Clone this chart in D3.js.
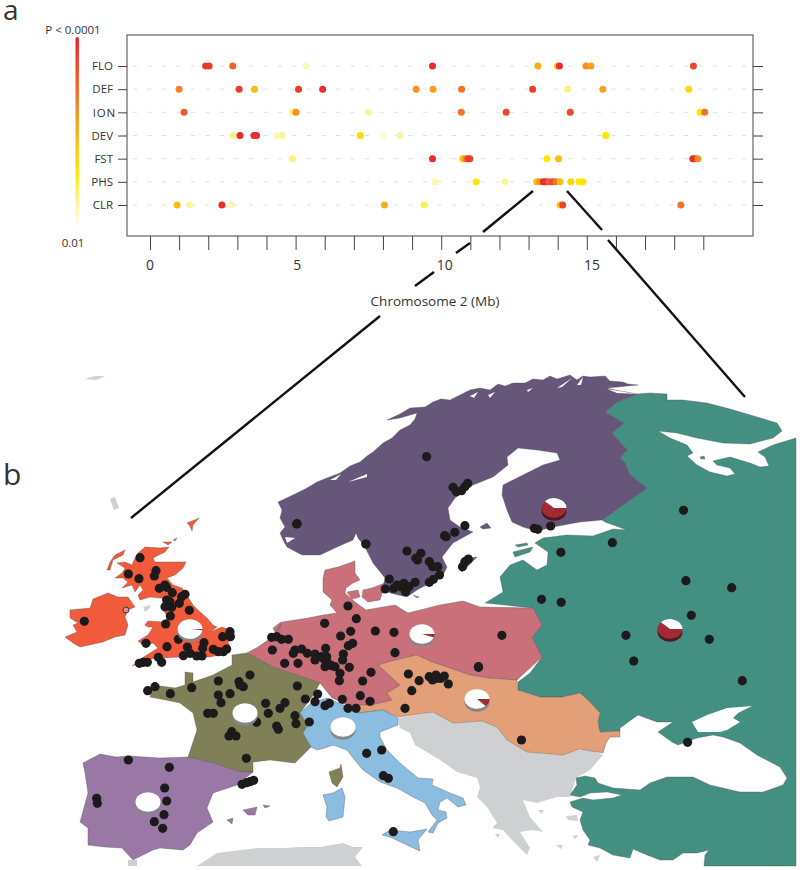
<!DOCTYPE html>
<html>
<head>
<meta charset="utf-8">
<script src="https://cdnjs.cloudflare.com/ajax/libs/d3/7.8.5/d3.min.js"></script>
<style>
body { margin: 0; background: #fff; }
svg { display: block; }
text { font-family: "Open Sans", sans-serif; fill: #333; }
</style>
</head>
<body>
<div id="chart"></div>
<script>
// panel a: traits and their hits along chromosome 2
var traits = ["FLO", "DEF", "ION", "DEV", "FST", "PHS", "CLR"];
var mbTicks = d3.range(0, 20);
var mbLabels = [0, 5, 10, 15];

// position in Mb, then significance (0 = P 0.01, 1 = P < 0.0001)
var floMb = [1.91, 2.03, 2.84, 5.35, 9.70, 13.32, 13.99, 14.06, 14.97, 15.14, 18.66];
var floSig = [0.9, 0.9, 0.75, 0.08, 0.95, 0.5, 0.4, 0.95, 0.6, 0.55, 0.85];
var defMb = [1.0, 3.06, 3.59, 5.1, 5.93, 9.14, 9.72, 10.7, 13.14, 14.34, 15.55, 18.5];
var defSig = [0.65, 0.9, 0.45, 0.9, 0.95, 0.6, 0.55, 0.7, 0.9, 0.15, 0.55, 0.35];
var ionMb = [1.17, 4.9, 5.01, 7.51, 10.69, 12.23, 14.43, 18.89, 19.05];
var ionSig = [0.8, 0.15, 0.6, 0.12, 0.7, 0.85, 0.85, 0.3, 0.7];
var devMb = [2.86, 3.09, 3.57, 3.66, 4.35, 4.53, 7.22, 8.01, 8.59, 15.65];
var devSig = [0.15, 0.95, 0.95, 0.95, 0.08, 0.12, 0.35, 0.05, 0.12, 0.3];
var fstMb = [4.89, 9.7, 10.74, 10.83, 10.91, 10.98, 13.63, 14.03, 18.64, 18.73, 18.81];
var fstSig = [0.15, 0.95, 0.4, 0.6, 0.85, 0.9, 0.3, 0.45, 0.95, 0.95, 0.6];
var phsMb = [9.79, 11.2, 12.19, 13.28, 13.39, 13.51, 13.59, 13.7, 13.83, 13.94, 14.08, 14.45, 14.73, 14.87];
var phsSig = [0.1, 0.3, 0.12, 0.45, 0.6, 0.95, 0.95, 0.8, 0.85, 0.7, 0.45, 0.35, 0.3, 0.3];
var clrMb = [0.93, 1.36, 2.47, 2.8, 8.05, 9.41, 14.08, 14.17, 18.23];
var clrSig = [0.45, 0.12, 0.95, 0.1, 0.5, 0.2, 0.4, 0.85, 0.7];

var traitMb = [floMb, defMb, ionMb, devMb, fstMb, phsMb, clrMb];
var traitSig = [floSig, defSig, ionSig, devSig, fstSig, phsSig, clrSig];

// panel b: regions, outlines in map units
var balkans = [[[398,718],[400,728],[410,733],[415,745],[440,760],[457,772],[477,778],[480,787],[477,797],[487,807],[497,823],[492,828],[503,830],[510,838],[527,855],[530,848],[520,832],[533,830],[543,832],[530,817],[523,800],[537,803],[557,797],[570,797],[576,778],[590,770],[603,755],[587,748],[560,755],[527,752],[507,740],[497,727],[482,721],[453,723],[433,712]],
  [[566,816],[577,815],[578,821],[568,820]],[[593,857],[600,855],[597,862]],[[556,845],[563,845],[561,849]],[[495,834],[500,834],[498,838]],[[572,836],[578,835],[576,839]],[[538,810],[544,810],[542,814]]];
var africa = [[[197,866],[217,853],[257,848],[283,848],[300,847],[320,847],[343,843],[353,847],[363,847],[355,857],[362,866]],[[128,866],[128,860],[137,860],[137,866]]];
var smallGrey = [[[85,379],[95,376],[105,376],[97,380]],[[110,499],[115,497],[119,508],[114,510]],[[143,607],[150,605],[150,608],[145,612]],[[293,668],[298,666],[300,674],[295,675]]];
var russia = [[[605,412],[617,402],[637,394],[650,393],[667,394],[667,400],[683,400],[707,403],[730,409],[757,417],[777,423],[782,431],[773,438],[750,444],[723,443],[697,438],[677,433],[658,431],[670,438],[687,445],[693,453],[687,456],[697,465],[710,472],[727,476],[735,474],[730,468],[717,465],[713,461],[730,457],[750,463],[760,467],[769,466],[765,457],[758,452],[773,445],[796,438],[796,866],[704,866],[705,855],[709,850],[697,853],[683,853],[673,860],[660,860],[647,855],[633,849],[630,858],[613,855],[600,848],[588,845],[590,840],[583,830],[580,820],[583,812],[572,807],[570,802],[583,798],[593,800],[613,798],[622,795],[607,792],[590,793],[580,797],[570,795],[577,785],[576,778],[585,776],[595,778],[598,783],[613,788],[640,790],[650,783],[667,777],[693,777],[710,785],[740,792],[763,792],[783,785],[787,778],[780,767],[757,755],[740,743],[723,737],[713,735],[697,738],[678,745],[672,742],[658,732],[673,722],[657,722],[638,715],[620,728],[620,731],[600,732],[598,722],[600,713],[590,702],[580,693],[563,697],[540,697],[518,690],[518,682],[530,673],[542,657],[532,637],[542,625],[533,608],[485,603],[490,600],[503,592],[500,577],[510,565],[523,560],[537,570],[547,565],[548,552],[535,543],[543,538],[567,535],[593,536],[613,529],[627,530],[605,522],[602,520],[647,488],[630,475],[625,463],[620,458],[627,450],[612,433],[624,423]],
  [[513,552],[533,547],[530,552],[515,557]],[[515,545],[527,543],[528,545],[518,547]],[[700,457],[704,456],[705,459],[701,459]]];
var azov = [[[692,722],[698,732],[720,732],[727,730],[740,722],[733,718],[738,713],[752,706],[740,707],[727,708],[707,715]]];
var germany = [[[247,653],[258,647],[268,640],[275,633],[282,622],[308,618],[323,615],[337,613],[330,605],[332,600],[323,592],[323,578],[325,570],[338,567],[355,561],[355,573],[360,580],[353,583],[346,588],[345,593],[355,602],[366,610],[383,607],[395,605],[408,613],[440,605],[463,601],[480,607],[533,608],[542,625],[532,637],[542,657],[517,680],[488,678],[470,675],[447,667],[432,662],[417,655],[408,657],[388,662],[378,665],[400,685],[387,693],[392,700],[372,705],[353,707],[332,698],[320,683],[273,667]],
  [[347,592],[358,590],[360,597],[352,599]],[[363,590],[372,588],[385,583],[383,590],[380,600],[368,602],[362,597]],[[413,595],[419,597],[417,598]],[[273,628],[281,622],[280,628],[275,632]]];
var orange = [[[378,665],[388,662],[408,657],[417,655],[432,662],[447,667],[470,675],[488,678],[517,680],[518,690],[540,697],[563,697],[580,693],[590,702],[600,713],[598,722],[600,732],[620,731],[620,737],[610,737],[606,743],[603,753],[580,749],[562,755],[527,752],[507,740],[497,727],[482,721],[453,723],[433,712],[398,717],[383,710],[367,712],[357,713],[343,705],[372,705],[392,700],[387,693],[400,685]]];
var france = [[[232,655],[247,653],[273,667],[320,683],[312,697],[300,713],[308,725],[303,733],[311,747],[295,763],[270,760],[253,762],[253,772],[240,772],[213,763],[188,757],[192,745],[197,730],[193,713],[180,703],[166,700],[150,697],[153,685],[175,688],[185,685],[185,672],[193,673],[193,682],[213,675],[232,665]],
  [[329,772],[340,768],[341,764],[343,777],[337,787],[332,783]]];
var italy = [[[300,713],[312,702],[328,698],[343,705],[357,713],[367,712],[383,710],[398,718],[398,725],[380,732],[380,737],[387,750],[400,763],[418,778],[433,779],[432,785],[450,793],[463,798],[466,805],[458,807],[447,798],[440,802],[438,810],[446,812],[447,818],[438,823],[433,833],[428,832],[437,820],[432,815],[425,803],[413,797],[397,788],[380,782],[363,770],[353,758],[347,750],[333,745],[325,748],[317,750],[311,747],[303,733],[308,725]],
  [[382,835],[390,830],[410,832],[427,829],[418,840],[420,851],[407,845],[390,837]],[[323,795],[333,793],[342,788],[345,797],[343,817],[329,821],[326,817],[327,807]]];
var iberia = [[[83,763],[100,754],[116,757],[130,756],[160,758],[188,757],[213,763],[240,772],[253,772],[237,785],[213,793],[207,808],[213,822],[197,833],[190,845],[183,850],[160,848],[153,850],[133,860],[122,848],[105,847],[88,845],[88,828],[80,822],[88,793],[85,773]],
  [[243,810],[257,807],[255,815],[248,815]],[[263,805],[270,806],[265,808]],[[227,820],[233,818],[232,824]]];
var britain = [[[138,553],[145,547],[160,548],[169,547],[165,552],[153,558],[155,562],[170,562],[186,562],[183,568],[175,575],[167,578],[173,585],[182,588],[188,597],[193,605],[198,610],[207,618],[213,625],[217,627],[210,632],[222,627],[233,631],[235,637],[228,642],[230,647],[223,654],[210,657],[197,657],[180,657],[163,658],[157,657],[147,661],[132,666],[142,658],[150,653],[158,648],[153,643],[145,646],[138,641],[148,635],[153,627],[148,627],[145,625],[148,621],[163,622],[168,617],[163,610],[165,603],[162,598],[160,598],[150,597],[140,600],[138,595],[143,590],[140,585],[135,592],[132,585],[122,588],[128,582],[123,578],[115,578],[122,573],[125,568],[117,563],[125,562],[132,565],[135,558]],
  [[107,570],[110,562],[115,555],[125,550],[123,555],[113,560],[110,570]],[[163,542],[172,542],[168,545]],[[173,540],[177,538],[175,541]],[[187,523],[197,519],[199,518],[193,525],[192,531],[190,526]],
  [[70,610],[90,608],[93,599],[108,593],[118,597],[128,597],[135,607],[128,610],[125,617],[128,625],[125,635],[115,637],[103,642],[80,647],[73,643],[65,637],[77,632],[73,625],[78,623],[70,618]]];
var nordic = [[[287,547],[302,555],[320,555],[337,547],[353,540],[356,533],[358,538],[365,547],[373,563],[385,578],[383,587],[390,593],[407,597],[417,590],[430,583],[442,577],[447,567],[442,557],[453,543],[473,532],[460,527],[450,520],[448,508],[455,498],[473,485],[493,477],[508,465],[507,457],[518,448],[537,450],[557,453],[560,460],[543,465],[527,473],[503,485],[502,495],[507,510],[512,522],[523,527],[537,531],[553,527],[580,522],[602,520],[647,488],[630,475],[625,463],[620,458],[627,450],[612,433],[624,423],[605,412],[617,402],[637,394],[615,390],[607,388],[638,385],[628,384],[623,382],[610,381],[605,376],[590,377],[583,376],[577,380],[570,375],[557,379],[550,376],[543,380],[533,379],[525,383],[513,383],[505,386],[498,384],[490,390],[480,388],[470,390],[462,394],[450,400],[441,399],[433,402],[425,407],[410,408],[400,414],[387,420],[400,418],[417,413],[415,419],[410,425],[400,430],[392,438],[383,443],[373,452],[367,456],[360,462],[350,466],[340,473],[327,478],[317,482],[307,488],[293,495],[278,502],[282,510],[280,518],[285,527],[280,533],[283,540]],
  [[480,527],[487,523],[491,528],[483,529]],[[458,567],[470,558],[477,557],[467,567],[462,572]]];
var fjords = [[[348,482],[367,474],[367,477]],[[488,395],[495,392],[490,398]],[[527,390],[533,388],[528,392]],[[557,388],[572,378],[562,387]],[[577,385],[583,377],[581,385]],[[607,389],[637,394],[617,393]],[[285,537],[295,538],[287,543]],[[330,480],[341,474],[336,480]],[[470,396],[478,392],[474,398]]];

var regions = [
  { shape: balkans, fill: "#cfd0d2" }, { shape: africa, fill: "#cfd0d2" }, { shape: smallGrey, fill: "#cfd0d2" },
  { shape: russia, fill: "#438f82" }, { shape: azov, fill: "#ffffff" }, { shape: germany, fill: "#c9707a" },
  { shape: orange, fill: "#e39f78" }, { shape: france, fill: "#7f8058" }, { shape: italy, fill: "#8bbde0" },
  { shape: iberia, fill: "#9a78a6" }, { shape: britain, fill: "#f15a3a" }, { shape: nordic, fill: "#65567a" },
  { shape: fjords, fill: "#ffffff" }
];

var sitesWest = [[103,364],[270,173],[235,222],[267,236],[318,212],[313,228],[328,265],[345,255],[350,262],[367,278],[405,283],[395,290],[350,300],[360,305],[345,320],[365,322],[388,310],[418,331],[361,348],[347,372],[288,430],[351,440],[385,418],[412,441],[462,428],[458,445],[400,467],[420,460],[440,468],[456,468],[490,448],[505,455],[520,455],[530,447],[518,410],[540,395],[541,410],[325,472],[335,487],[268,490],[280,487],[292,487],
  [293,572],[315,560],[361,581],[425,563],[505,543],[505,585],[513,608],[540,581],[567,545],[570,555],[580,560],[600,525],[473,640],[490,640],[620,667],[655,640],[647,610],[690,625],[705,608],[742,558],[766,597],[795,605],[803,582],[735,647],[738,671],[680,678],[685,688],[545,695],[537,708],[558,708],[589,775],[778,666],[825,617],[838,610],
  [665,412],[680,410],[695,418],[715,418],[667,450],[704,490],[744,490],[735,450],[730,460],[755,447],[772,460],[795,462],[795,480],[827,445],[815,470],[825,480],[835,490],[845,497],[855,500],[880,462],[878,480],[825,500],[898,502],[870,520],[868,542],[877,598],[931,587],[960,604],[938,543],[963,517],[894,625],[918,625],[1035,458],[1032,397],[976,393],[908,430],[895,437],[872,408],[902,394],[824,370],[894,318],[919,356],[820,475],[830,470],
  [235,780],[358,802],[344,864],[350,903],[342,944],[313,965],[338,985],[140,895],[142,910],[576,853],[590,848],[600,845],[611,841],
  [740,72],[948,132],[950,760],[995,750],[1000,827],[1015,835],[1030,995]];
var sitesNorth = [[462,260],[80,461],[283,522],[404,543],[583,340],[575,350],[540,352],[550,365],[565,362],[575,467],[545,487],[515,497],[520,500],[445,550],[435,570],[430,565],[470,575],[480,590],[495,590],[352,627],[340,657],[365,655],[385,650],[400,665],[410,650],[428,637],[375,645],[395,640],[470,637],[482,628],[500,615],[568,590],[575,575],[585,567],[780,475],[790,478],[828,468],
  [1220,421],[1010,518],[858,547],[1227,632],[1362,653],[801,688],[859,697],[1243,736],[1050,796],[1296,808],[1073,873],[684,796],[615,890]];
var sitesEast = [[323,222],[355,242],[333,272],[313,325],[385,230],[395,240],[405,225],[410,235],[420,235],[430,228],[442,252],[532,202],[660,420],[1155,427],[1318,242]];
var hollowSites = [[126,610]];

// pies: position in map units and share of the dark allele
var pieCentres = [[190,629],[245,713],[148,802],[343,727],[422,634],[477,699],[554,508],[670,629]];
var darkShare = [0.02, 0, 0, 0, 0.06, 0.13, 0.62, 0.62];

// links from the PHS peak down to the map, in picture units
var leftLink = [[[533,191],[483,232]],[[470,243],[456,253]],[[434,272],[415,286]],[[380,316],[131,518]]];
var rightLink = [[[567,191],[602,230]],[[608,240],[745,397]]];

var width = 800, height = 870;
var frame = { left: 127, right: 753, top: 35, bottom: 236 };

var svg = d3.select("#chart").append("svg")
  .attr("width", width).attr("height", height)
  .attr("viewBox", "0 0 " + width + " " + height);

var x = d3.scaleLinear().domain([0, 19]).range([150, 703.3]);
var xLabel = d3.scaleLinear().domain([0, 15]).range([150, 592]); // labels drift a little from the ticks in the figure
var y = d3.scalePoint().domain(traits).range([66, 205]);
var sigColor = d3.scaleLinear()
  .domain([0, 0.1, 0.3, 0.55, 0.75, 1])
  .range(["#fffef2", "#fbf6b0", "#ffe600", "#f9a01b", "#f0642a", "#ec1c2c"]);

// colour key
var defs = svg.append("defs");
var grad = defs.append("linearGradient").attr("id", "key").attr("x1", 0).attr("y1", 1).attr("x2", 0).attr("y2", 0);
d3.range(0, 1.01, 0.1).forEach(function(t) {
  grad.append("stop").attr("offset", t).attr("stop-color", sigColor(t));
});
svg.append("rect").attr("x", 75.5).attr("y", 37).attr("width", 3.4).attr("height", 191).attr("rx", 1.7).attr("fill", "url(#key)");
svg.append("text").attr("x", 73).attr("y", 34).attr("text-anchor", "middle").attr("font-size", 11.5).text("P < 0.0001");
svg.append("text").attr("x", 73).attr("y", 247).attr("text-anchor", "middle").attr("font-size", 11.5).text("0.01");
svg.append("text").attr("x", 3).attr("y", 20).attr("font-size", 28).text("a");
svg.append("text").attr("x", 3).attr("y", 485).attr("font-size", 30).text("b");

// frame and axes
svg.append("rect").attr("x", frame.left).attr("y", frame.top)
  .attr("width", frame.right - frame.left).attr("height", frame.bottom - frame.top)
  .attr("fill", "#fff").attr("stroke", "#555").attr("stroke-width", 1.1);

var xAxis = svg.append("g").attr("transform", "translate(0," + frame.bottom + ")")
  .call(d3.axisBottom(x).tickValues(mbTicks).tickSize(14).tickFormat(""));
xAxis.select(".domain").remove();
xAxis.selectAll("line").attr("stroke", "#444").attr("stroke-width", 1);

svg.selectAll(".mblabel").data(mbLabels).enter().append("text")
  .attr("class", "mblabel")
  .attr("x", function(d) { return xLabel(d); })
  .attr("y", 269.5).attr("text-anchor", "middle").attr("font-size", 14)
  .text(function(d) { return d; });

svg.append("text").attr("x", 435).attr("y", 306).attr("text-anchor", "middle").attr("font-size", 13.5).text("Chromosome 2 (Mb)");

var yLeft = svg.append("g").attr("transform", "translate(" + frame.left + ",0)")
  .call(d3.axisLeft(y).tickSize(9).tickPadding(5));
yLeft.select(".domain").remove();
yLeft.selectAll("line").attr("stroke", "#444").attr("stroke-width", 1);
yLeft.selectAll("text").attr("font-size", 11.5).attr("font-family", "Open Sans, sans-serif")
  .attr("letter-spacing", function(d) { return d == "ION" ? "0.8px" : null; })
  .attr("dx", function(d) { return d == "ION" ? 3 : 0; });

var yRight = svg.append("g").attr("transform", "translate(" + frame.right + ",0)")
  .call(d3.axisRight(y).tickSize(10).tickFormat(""));
yRight.select(".domain").remove();
yRight.selectAll("line").attr("stroke", "#444").attr("stroke-width", 1);

svg.selectAll(".guide").data(traits).enter().append("line")
  .attr("class", "guide")
  .attr("x1", frame.left + 6).attr("x2", frame.right - 6)
  .attr("y1", function(d) { return y(d); }).attr("y2", function(d) { return y(d); })
  .attr("stroke", "#d5d8d8").attr("stroke-width", 0.8).attr("stroke-dasharray", "4 10.5");

traits.forEach(function(t, i) {
  svg.selectAll(".hit" + t).data(traitMb[i]).enter().append("circle")
    .attr("class", "hit" + t)
    .attr("cx", function(d) { return x(d); })
    .attr("cy", y(t))
    .attr("r", 3.5)
    .attr("fill", function(d, k) { return sigColor(traitSig[i][k]); });
});

// map
function closeRings(rings) {
  return rings.map(function(r) { return [r.concat([r[0]])]; });
}
var mapProj = d3.geoIdentity();
var mapPath = d3.geoPath(mapProj);

var map = svg.append("g");
map.selectAll("path").data(regions).enter().append("path")
  .attr("d", function(d) { return mapPath({ type: "MultiPolygon", coordinates: closeRings(d.shape) }); })
  .attr("fill", function(d) { return d.fill; })
  .attr("stroke", function(d) { return d.fill == "#ffffff" || d.fill == "#cfd0d2" ? "none" : "#4a4a4a"; })
  .attr("stroke-width", 0.35);

// link lines
var linkLine = d3.line();
svg.selectAll(".link").data(leftLink.concat(rightLink)).enter().append("path")
  .attr("class", "link").attr("d", linkLine)
  .attr("fill", "none").attr("stroke", "#111").attr("stroke-width", 2.4);

// sites
var sheets = [
  { sites: sitesWest, proj: d3.geoIdentity().scale(1 / 3).translate([50, 500]) },
  { sites: sitesNorth, proj: d3.geoTransform({ point: function(a, b) { this.stream.point(270 + a / 2.95, 370 + b / 3); } }) },
  { sites: sitesEast, proj: d3.geoTransform({ point: function(a, b) { this.stream.point(300 + a / 2.98, 600 + b / 3); } }) }
];
sheets.forEach(function(sheet, i) {
  var p = d3.geoPath(sheet.proj).pointRadius(4.6);
  svg.selectAll(".site" + i).data(sheet.sites).enter().append("path")
    .attr("class", "site" + i)
    .attr("d", function(d) { return p({ type: "Point", coordinates: d }); })
    .attr("fill", "#1c1a1b");
});
svg.selectAll(".hollow").data(hollowSites).enter().append("circle")
  .attr("class", "hollow")
  .attr("cx", function(d) { return mapProj(d)[0]; })
  .attr("cy", function(d) { return mapProj(d)[1]; })
  .attr("r", 3).attr("fill", "#d98f7c").attr("stroke", "#333").attr("stroke-width", 0.9);

// pies, squashed to look like tilted discs
var pie = d3.pie().sort(null).startAngle(Math.PI * 0.5).endAngle(Math.PI * 2.5);
var arc = d3.arc().innerRadius(0).outerRadius(12.5);
pieCentres.forEach(function(c, i) {
  var share = darkShare[i];
  var g = svg.append("g").attr("transform", "translate(" + mapProj(c) + ") scale(1,0.78)");
  g.append("circle").attr("cy", 4).attr("r", 12.5).attr("fill", share > 0.5 ? "#4d1a20" : "#85868a");
  g.selectAll("path").data(pie([share, 1 - share])).enter().append("path")
    .attr("d", arc)
    .attr("fill", function(d, k) { return k == 0 ? "#a12a35" : "#ffffff"; });
});
</script>
</body>
</html>
